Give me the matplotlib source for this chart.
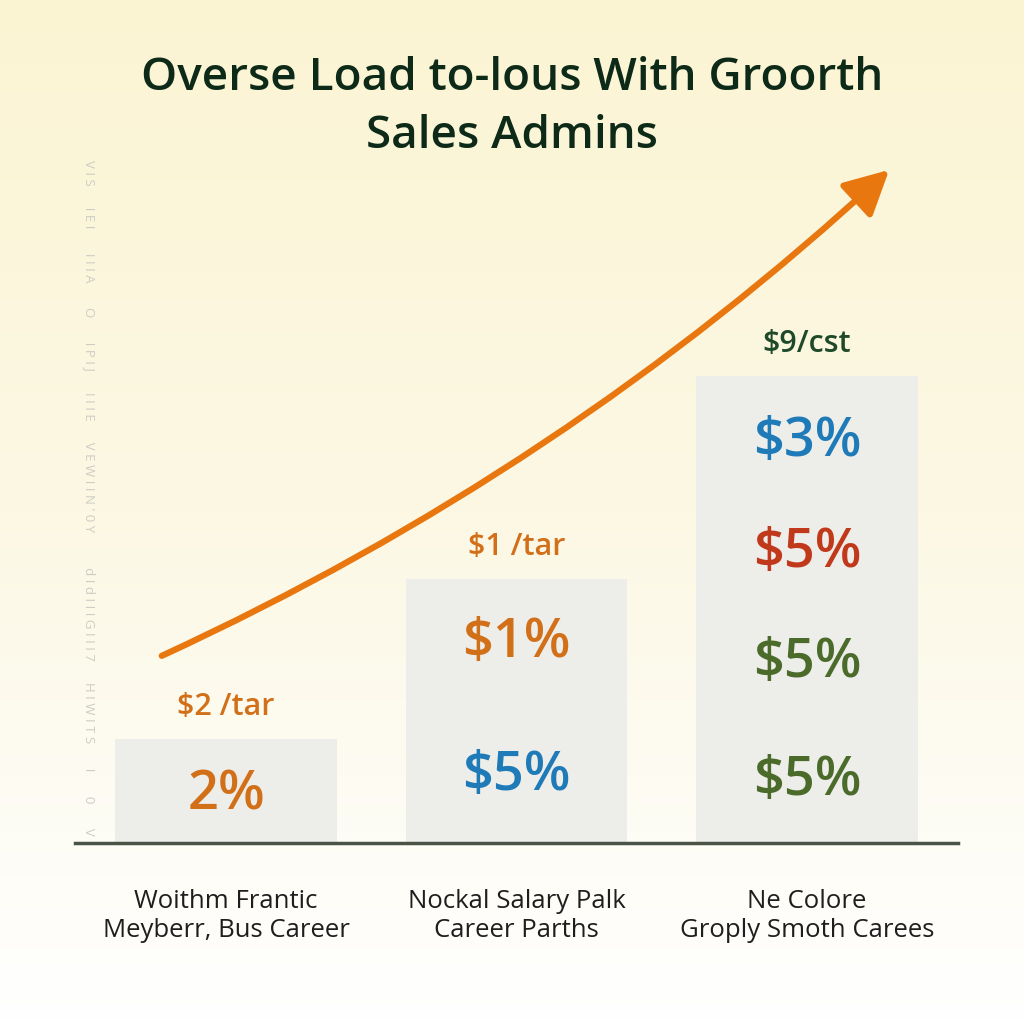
import numpy as np
import matplotlib.pyplot as plt
from matplotlib.colors import LinearSegmentedColormap

# data
categories = ['Woithm Frantic\nMeyberr, Bus Career',
              'Nockal Salary Palk\nCareer Parths',
              'Ne Colore\nGroply Smoth Carees']
bar_values = [104, 264, 467]
top_labels = ['$2 /tar', '$1 /tar', '$9/cst']
inner_labels = [['2%'], ['$1%', '$5%'], ['$3%', '$5%', '$5%', '$5%']]
inner_colors = [['#d2701a'], ['#d2701a', '#1f7ab8'],
                ['#1f7ab8', '#c0391b', '#4b6b2a', '#4b6b2a']]
top_colors = ['#d2701a', '#d2701a', '#1f4a2a']
title = 'Overse Load to-lous With Groorth\nSales Admins'

plt.rcParams['font.family'] = ['Open Sans', 'DejaVu Sans']

fig = plt.figure(figsize=(10.24, 10.24), dpi=100)

# background gradient
bg = fig.add_axes([0, 0, 1, 1])
grad = np.linspace(0, 1, 256).reshape(-1, 1)
cmap = LinearSegmentedColormap.from_list('bg', ['#fbf4d3', '#fcf8e4', '#ffffff'])
bg.imshow(grad, aspect='auto', cmap=cmap, extent=[0, 1, 0, 1], origin='upper')
bg.set_axis_off()

# main axes: baseline at y=843px, left 75px, right 958px
H = 1024.0
ax = fig.add_axes([75 / H, (H - 843) / H, (958 - 75) / H, (843 - 150) / H])
ax.patch.set_alpha(0)
x = np.arange(len(categories))
ax.bar(x, bar_values, width=0.764, color='#ededea', zorder=1)
ax.set_xlim(-0.52, 2.52)
ax.set_ylim(0, 693)
for s in ['top', 'right', 'left']:
    ax.spines[s].set_visible(False)
ax.spines['bottom'].set_color('#4a5446')
ax.spines['bottom'].set_linewidth(2.5)
ax.set_yticks([])
ax.set_xticks(x)
ax.set_xticklabels(categories, fontsize=18.5, color='#1e1e1e', linespacing=1.2)
ax.tick_params(axis='x', length=0, pad=33)

# labels above bars
for i, (v, lab) in enumerate(zip(bar_values, top_labels)):
    ax.text(i, v + 32, lab, ha='center', va='center', fontsize=22,
            fontweight='semibold', color=top_colors[i])

# labels inside bars (pixel offsets from baseline)
inner_pos = [[48], [200, 67], [401, 290, 180, 62]]
for i, labs in enumerate(inner_labels):
    for j, lab in enumerate(labs):
        ax.text(i, inner_pos[i][j], lab, ha='center', va='center', fontsize=39,
                fontweight='semibold', color=inner_colors[i][j])

# growth arrow
ax.annotate('', xy=(2.29, 675), xytext=(-0.23, 186),
            arrowprops=dict(arrowstyle='-|>,head_length=2.7,head_width=1.4',
                            color='#e8770f', lw=4.5,
                            connectionstyle='arc3,rad=0.08'),
            zorder=3)

# faint left axis text
ax.text(-0.47, 345,
        'V I S      I E I       I I I A       O       I P I J      I I I E      V E W I I N \' 0 Y'
        '          d I d I I I G I I I 7      H I W I T S       I       0       V',
        rotation=270, ha='center', va='center', fontsize=9.5, color='#cdcdc4')

fig.text(0.5, 0.895, title, ha='center', va='center', fontsize=33,
         fontweight='semibold', color='#0d2a18', linespacing=1.36)

fig.savefig('out.png', dpi=100)
